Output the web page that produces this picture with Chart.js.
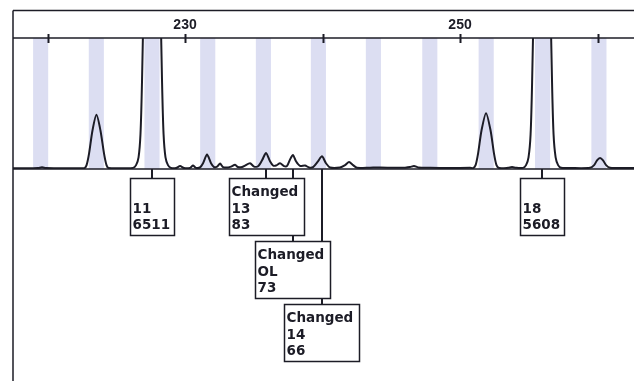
<!DOCTYPE html>
<html>
<head>
<meta charset="utf-8">
<script src="https://cdn.jsdelivr.net/npm/chart.js@4/dist/chart.umd.min.js"></script>
<style>
  html, body { margin: 0; padding: 0; background: #ffffff; }
  #wrap { position: relative; width: 634px; height: 381px; }
</style>
</head>
<body>
<div id="wrap"><canvas id="epg" width="634" height="381"></canvas></div>
<script>
// Size axis (bp) and signal (RFU) of the electropherogram trace
const traceBp = [
  217.49, 218.73, 219.31, 219.60, 219.89, 220.91, 222.36, 222.69, 222.84, 223.02,
  223.27, 223.56, 223.85, 224.11, 224.29, 224.44, 225.64, 226.22, 226.44, 226.62,
  226.76, 226.87, 226.98, 227.13, 227.60, 228.07, 228.22, 228.33, 228.44, 228.58,
  228.76, 228.98, 229.35, 229.64, 229.93, 230.36, 230.58, 230.80, 231.09, 231.31,
  231.60, 231.89, 232.11, 232.33, 232.55, 232.76, 233.13, 233.35, 233.64, 233.85,
  234.15, 234.36, 234.73, 235.02, 235.31, 235.60, 235.89, 236.18, 236.40, 236.62,
  236.91, 237.20, 237.42, 237.64, 237.85, 238.07, 238.36, 238.73, 239.02, 239.31,
  239.67, 239.96, 240.25, 240.55, 241.27, 241.64, 241.93, 242.22, 242.51, 243.45,
  244.18, 245.27, 246.00, 246.36, 246.65, 246.95, 247.82, 249.27, 250.73, 250.95,
  251.13, 251.31, 251.56, 251.89, 252.22, 252.47, 252.65, 252.84, 253.49,
  253.78, 254.07, 254.58, 254.80, 254.98, 255.13, 255.24, 255.35, 255.49, 255.96,
  256.44, 256.58, 256.69, 256.80, 256.95, 257.13, 257.35, 258.00, 259.45, 259.75,
  259.96, 260.18, 260.40, 260.62, 260.91, 261.64, 262.65
];
const traceRfu = [
  4, 4, 5, 9, 5, 4, 4, 5, 20, 80,
  200, 281, 200, 80, 20, 5, 4, 6, 20, 60,
  180, 450, 900, 3000, 6511, 3000, 900, 450, 180, 60,
  20, 6, 5, 15, 5, 6, 18, 6, 8, 30,
  75, 30, 10, 12, 28, 10, 8, 12, 22, 10,
  10, 18, 30, 12, 14, 45, 83, 40, 18, 18,
  30, 15, 16, 50, 73, 40, 16, 18, 8, 10,
  40, 66, 30, 8, 8, 20, 36, 20, 6, 7,
  8, 6, 7, 10, 16, 8, 6, 5, 6, 5,
  20, 80, 200, 290, 200, 80, 20, 5, 6,
  10, 6, 6, 20, 60, 180, 450, 900, 3000, 5608,
  3000, 900, 450, 180, 60, 20, 6, 5, 6, 20,
  45, 57, 45, 20, 6, 5, 5
];

// Allelic ladder bins (bp centres)
const binCentres = [219.5, 223.55, 227.6, 231.65, 235.7, 239.7, 243.7, 247.8, 251.9, 256.0, 260.1];
const binWidth = 1.1;

// Axis ticks and the ones that carry a label
const tickValues = [220, 230, 240, 250, 260];
const labelledTicks = [230, 250];

// Called peaks: size, allele, height, edit flag and stacking row of the label
const callSizes   = [227.60, 235.89, 237.85, 239.96, 255.96];
const callAlleles = ['11', '13', 'OL', '14', '18'];
const callHeights = [6511, 83, 73, 66, 5608];
const callEdited  = [false, true, true, true, false];
const callRows    = [0, 0, 1, 2, 0];

const INK = '#1c1c26';
const BIN_FILL = 'rgba(214, 216, 240, 0.85)';
const BOX_FONT = 'bold 13.5px "DejaVu Sans", sans-serif';

const traceData = traceBp.map((x, i) => ({ x: x, y: traceRfu[i] }));

// Grey bin bands behind the trace
const binsPlugin = {
  id: 'bins',
  beforeDatasetsDraw(chart) {
    const { ctx, chartArea, scales } = chart;
    ctx.save();
    ctx.fillStyle = BIN_FILL;
    binCentres.forEach(c => {
      const l = scales.x.getPixelForValue(c - binWidth / 2);
      const r = scales.x.getPixelForValue(c + binWidth / 2);
      ctx.fillRect(l, chartArea.top, r - l, chartArea.bottom - chartArea.top);
    });
    ctx.restore();
  }
};

// Frame, axis line, tick marks, baseline and allele call boxes
const framePlugin = {
  id: 'frame',
  afterDraw(chart) {
    const { ctx, chartArea, scales, width, height } = chart;
    const xs = scales.x;
    const top = chartArea.top;
    const base = scales.y.getPixelForValue(0);
    ctx.save();
    ctx.strokeStyle = INK;

    // outer frame (top and left)
    ctx.lineWidth = 1.5;
    ctx.beginPath();
    ctx.moveTo(chartArea.left, 10.5);
    ctx.lineTo(width, 10.5);
    ctx.moveTo(chartArea.left, 10.5);
    ctx.lineTo(chartArea.left, height);
    ctx.stroke();

    // size axis line
    ctx.beginPath();
    ctx.moveTo(chartArea.left, top);
    ctx.lineTo(width, top);
    ctx.stroke();

    // tick marks crossing the axis line
    ctx.lineWidth = 2;
    tickValues.forEach(v => {
      const px = Math.round(xs.getPixelForValue(v)) + 0.5;
      ctx.beginPath();
      ctx.moveTo(px, top - 4);
      ctx.lineTo(px, top + 5);
      ctx.stroke();
    });

    // baseline
    ctx.lineWidth = 1.5;
    ctx.beginPath();
    ctx.moveTo(chartArea.left, base);
    ctx.lineTo(width, base);
    ctx.stroke();

    // call boxes
    const rowTop = base + 9;
    const rowStep = 63;
    const boxH = 57;
    const lineH = 16.5;
    ctx.font = BOX_FONT;

    // connectors first, so boxes sit over them
    ctx.lineWidth = 2;
    callSizes.forEach((s, i) => {
      const px = Math.round(xs.getPixelForValue(s));
      ctx.beginPath();
      ctx.moveTo(px, base);
      ctx.lineTo(px, rowTop + callRows[i] * rowStep);
      ctx.stroke();
    });

    callSizes.forEach((s, i) => {
      const px = xs.getPixelForValue(s);
      const w = callEdited[i] ? 75 : 44;
      const bx = Math.round(px - w / 2) + 0.5;
      const by = Math.round(rowTop + callRows[i] * rowStep) + 0.5;
      ctx.fillStyle = '#ffffff';
      ctx.fillRect(bx, by, w, boxH);
      ctx.lineWidth = 1.5;
      ctx.strokeRect(bx, by, w, boxH);
      ctx.fillStyle = INK;
      ctx.textBaseline = 'middle';
      ctx.textAlign = 'left';
      const lines = [callEdited[i] ? 'Changed' : '', callAlleles[i], String(callHeights[i])];
      lines.forEach((t, k) => {
        if (t) ctx.fillText(t, bx + 2, by + 14 + k * lineH);
      });
    });
    ctx.restore();
  }
};

new Chart(document.getElementById('epg'), {
  type: 'line',
  data: {
    datasets: [{
      data: traceData,
      borderColor: INK,
      borderWidth: 2,
      pointRadius: 0,
      tension: 0.25,
      fill: false
    }]
  },
  options: {
    responsive: false,
    animation: false,
    events: [],
    layout: { padding: { top: 10, left: 13, right: 0, bottom: 212 } },
    plugins: { legend: { display: false }, tooltip: { enabled: false } },
    scales: {
      x: {
        type: 'linear',
        position: 'top',
        min: 217.49,
        max: 262.65,
        afterFit(scale) { scale.height = 28; },
        afterBuildTicks(scale) { scale.ticks = tickValues.map(v => ({ value: v })); },
        border: { display: false },
        grid: { display: false, drawTicks: false },
        ticks: {
          padding: 4,
          autoSkip: false,
          maxRotation: 0,
          color: INK,
          font: { family: '"Liberation Sans", Arial, sans-serif', size: 14, weight: 'bold' },
          callback: v => (labelledTicks.includes(v) ? String(v) : '')
        }
      },
      y: {
        display: false,
        min: 0,
        max: 680
      }
    }
  },
  plugins: [binsPlugin, framePlugin]
});
</script>
</body>
</html>
